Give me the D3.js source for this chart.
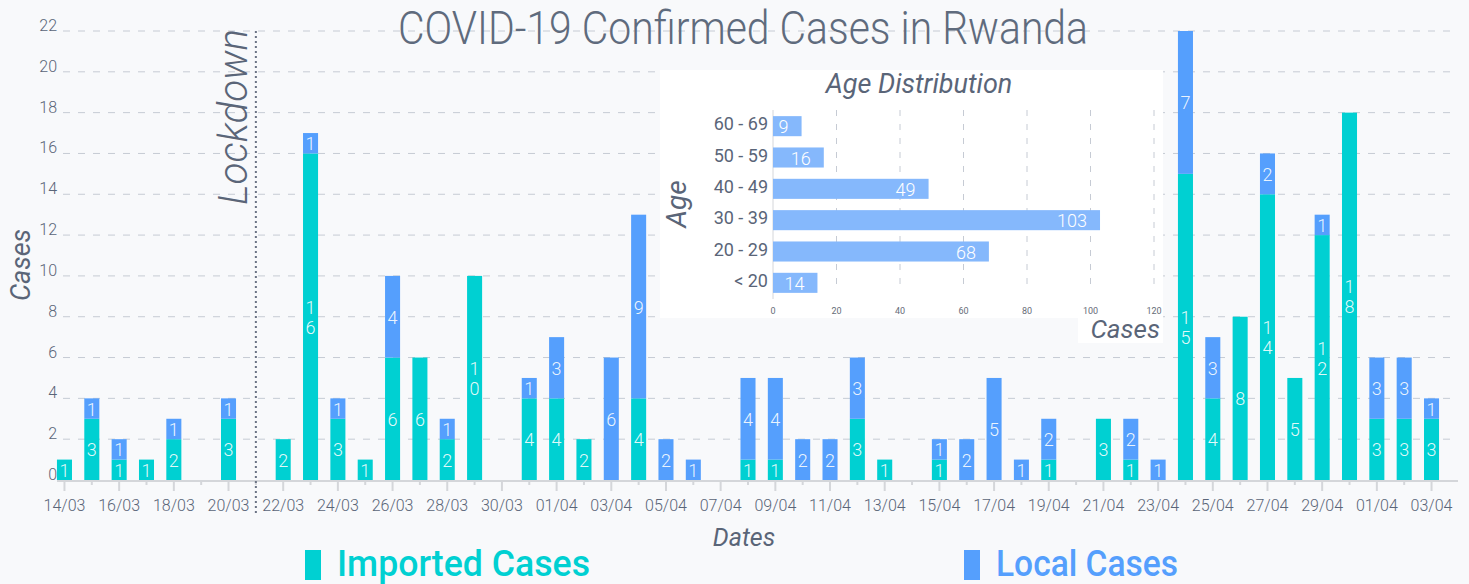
<!DOCTYPE html>
<html>
<head>
<meta charset="utf-8">
<script src="https://cdn.jsdelivr.net/npm/d3@7"></script>
<style>
  body { margin: 0; background: #f8f9fb; }
  svg { display: block; font-family: Roboto, sans-serif; }
  .ink { fill: #5a6578; }
</style>
</head>
<body>
<script>
// daily confirmed cases, 14/03 .. 03/05
const dates = [
  '14/03','15/03','16/03','17/03','18/03','19/03','20/03','21/03','22/03','23/03',
  '24/03','25/03','26/03','27/03','28/03','29/03','30/03','31/03',
  '01/04','02/04','03/04','04/04','05/04','06/04','07/04','08/04','09/04','10/04',
  '11/04','12/04','13/04','14/04','15/04','16/04','17/04','18/04','19/04','20/04',
  '21/04','22/04','23/04','24/04','25/04','26/04','27/04','28/04','29/04','30/04',
  '01/05','02/05','03/05'
]
const imported = [1,3,1,1,2,0,3,0,2,16, 3,1,6,6,2,10,0,4, 4,2,0,4,0,0,0,1,1,0, 0,3,1,0,1,0,0,0,1,0, 3,1,0,15,4,8,14,5,12,18, 3,3,3]
const local    = [0,1,1,0,1,0,1,0,0,1,  1,0,4,0,1,0,0,1,  3,0,6,9,2,1,0,4,4,2, 2,3,0,0,1,2,5,1,2,0, 0,2,1,7,3,0,2,0,1,0,  3,3,1]
// the original chart labels the last two ticks like this
const tickLabels = ['14/03','16/03','18/03','20/03','22/03','24/03','26/03','28/03','30/03',
  '01/04','03/04','05/04','07/04','09/04','11/04','13/04','15/04','17/04','19/04','21/04',
  '23/04','25/04','27/04','29/04','01/04','03/04']
const yTicks = [0,2,4,6,8,10,12,14,16,18,20,22]
const lockdownDate = '21/03'

// inset: age distribution
const ageGroups = ['60 - 69','50 - 59','40 - 49','30 - 39','20 - 29','< 20']
const ageCases = [9,16,49,103,68,14]
const ageTicks = [0,20,40,60,80,100,120]

const cImported = '#00d0d2'
const cLocal = '#559ffd'
const cAge = '#85b8fc'
const cGrid = '#c6cbd4'

const W = 1469, H = 584
const svg = d3.select('body').append('svg').attr('width', W).attr('height', H)

const x = d3.scaleBand().domain(dates).range([50.8, 1445.2]).paddingInner(0.45).paddingOuter(0.225)
const y = d3.scaleLinear().domain([0, 22]).range([480, 31])
const bw = x.bandwidth()

// grid
svg.append('g').selectAll('line').data(yTicks.slice(1)).enter().append('line')
  .attr('x1', 63).attr('x2', 1452)
  .attr('y1', d => y(d)).attr('y2', d => y(d))
  .attr('stroke', cGrid).attr('stroke-width', 1).attr('stroke-dasharray', '7,8')

// y tick labels
svg.append('g').selectAll('text').data(yTicks).enter().append('text')
  .attr('class', 'ink')
  .attr('x', 57).attr('y', d => y(d))
  .attr('text-anchor', 'end').attr('font-size', 16).attr('font-weight', 300)
  .text(d => d)

// x axis
const xa = svg.append('g')
xa.append('line').attr('x1', 57).attr('x2', 1458).attr('y1', 481).attr('y2', 481)
  .attr('stroke', '#d4d6da').attr('stroke-width', 2)
xa.selectAll('.tk').data(dates).enter().append('line')
  .attr('x1', d => x(d) + bw / 2).attr('x2', d => x(d) + bw / 2)
  .attr('y1', 481).attr('y2', (d, i) => i % 2 === 0 ? 491 : 485)
  .attr('stroke', '#d4d6da').attr('stroke-width', 2)
xa.selectAll('text').data(tickLabels).enter().append('text')
  .attr('class', 'ink')
  .attr('x', (d, i) => x(dates[i * 2]) + bw / 2).attr('y', 511)
  .attr('text-anchor', 'middle').attr('font-size', 16).attr('font-weight', 300)
  .text(d => d)

// stacked bars
const rows = dates.map((d, i) => ({ date: d, imported: imported[i], local: local[i] }))
const series = d3.stack().keys(['imported', 'local'])(rows)
const colors = { imported: cImported, local: cLocal }

const layers = svg.append('g').selectAll('g').data(series).enter().append('g')
  .attr('fill', s => colors[s.key])
layers.selectAll('rect').data(s => s).enter().append('rect')
  .attr('x', d => x(d.data.date))
  .attr('width', bw)
  .attr('y', d => y(d[1]))
  .attr('height', d => y(d[0]) - y(d[1]))

// segment labels, digits stacked vertically
const labels = svg.append('g').attr('fill', '#ffffff').attr('fill-opacity', 0.9)
  .attr('font-size', 18).attr('font-weight', 300).attr('text-anchor', 'middle')
series.forEach(s => {
  s.forEach(d => {
    const v = d[1] - d[0]
    if (v <= 0) return
    const digits = String(v).split('')
    const cy = (y(d[0]) + y(d[1])) / 2
    const t = labels.append('text')
      .attr('x', x(d.data.date) + bw / 2)
      .attr('y', cy - (digits.length - 1) * 10 + 7)
    digits.forEach((c, k) => {
      t.append('tspan').attr('x', x(d.data.date) + bw / 2).attr('dy', k === 0 ? 0 : 20).text(c)
    })
  })
})

// lockdown marker
const lx = x(lockdownDate) + bw / 2
svg.append('line').attr('x1', lx).attr('x2', lx).attr('y1', 31).attr('y2', 516)
  .attr('stroke', '#6b7384').attr('stroke-width', 2).attr('stroke-dasharray', '2,3')
svg.append('text').attr('class', 'ink')
  .attr('transform', `translate(${lx - 9},205) rotate(-90)`)
  .attr('font-size', 40).attr('font-style', 'italic').attr('font-weight', 300)
  .attr('textLength', 176).attr('lengthAdjust', 'spacingAndGlyphs')
  .text('Lockdown')

// titles
svg.append('text').attr('fill', '#5f6b7d')
  .attr('x', 398).attr('y', 44)
  .attr('font-size', 46).attr('font-weight', 300)
  .attr('textLength', 690).attr('lengthAdjust', 'spacingAndGlyphs')
  .text('COVID-19 Confirmed Cases in Rwanda')
svg.append('text').attr('class', 'ink')
  .attr('transform', 'translate(30,265) rotate(-90)')
  .attr('text-anchor', 'middle').attr('font-size', 27).attr('font-style', 'italic')
  .text('Cases')
svg.append('text').attr('class', 'ink')
  .attr('x', 744).attr('y', 546).attr('text-anchor', 'middle')
  .attr('font-size', 25).attr('font-style', 'italic')
  .text('Dates')

// legend
const legend = [
  { name: 'Imported Cases', color: cImported, x: 305, w: 253 },
  { name: 'Local Cases', color: cLocal, x: 964, w: 182 }
]
legend.forEach(l => {
  svg.append('rect').attr('x', l.x).attr('y', 550).attr('width', 16).attr('height', 30).attr('fill', l.color)
  svg.append('text').attr('x', l.x + 32).attr('y', 576)
    .attr('fill', l.color).attr('font-size', 36).attr('font-weight', 500)
    .attr('textLength', l.w).attr('lengthAdjust', 'spacingAndGlyphs')
    .text(l.name)
})

// ---- inset ----
const inset = svg.append('g')
inset.append('rect').attr('x', 660).attr('y', 70).attr('width', 503).attr('height', 248).attr('fill', '#ffffff')
inset.append('rect').attr('x', 1078).attr('y', 318).attr('width', 85).attr('height', 25).attr('fill', '#ffffff')

const ax = d3.scaleLinear().domain([0, 120]).range([773, 1154])
const ay = d3.scaleBand().domain(ageGroups).range([110.5, 298.5]).paddingInner(0.36).paddingOuter(0.18)

inset.append('g').selectAll('line').data(ageTicks.slice(1)).enter().append('line')
  .attr('x1', d => ax(d)).attr('x2', d => ax(d)).attr('y1', 110).attr('y2', 292)
  .attr('stroke', cGrid).attr('stroke-dasharray', '6,8')
inset.append('line').attr('x1', 773).attr('x2', 773).attr('y1', 110).attr('y2', 299)
  .attr('stroke', '#d4d6da').attr('stroke-width', 1)
inset.append('g').selectAll('text').data(ageTicks).enter().append('text')
  .attr('x', d => ax(d)).attr('y', 314).attr('text-anchor', 'middle')
  .attr('font-size', 9).attr('fill', '#666c78')
  .text(d => d)

inset.append('g').selectAll('rect').data(ageGroups).enter().append('rect')
  .attr('x', ax(0)).attr('y', d => ay(d))
  .attr('width', (d, i) => ax(ageCases[i]) - ax(0))
  .attr('height', ay.bandwidth())
  .attr('fill', cAge)
inset.append('g').selectAll('text').data(ageGroups).enter().append('text')
  .attr('x', (d, i) => ax(ageCases[i]) - 13).attr('y', d => ay(d) + ay.bandwidth() / 2 + 7)
  .attr('text-anchor', 'end').attr('font-size', 18).attr('font-weight', 300).attr('fill', '#ffffff')
  .text((d, i) => ageCases[i])
inset.append('g').selectAll('text').data(ageGroups).enter().append('text')
  .attr('class', 'ink')
  .attr('x', 768).attr('y', d => ay(d) + ay.bandwidth() / 2 + 4)
  .attr('text-anchor', 'end').attr('font-size', 18)
  .text(d => d)

inset.append('text').attr('class', 'ink')
  .attr('x', 919).attr('y', 93).attr('text-anchor', 'middle')
  .attr('font-size', 27).attr('font-style', 'italic')
  .text('Age Distribution')
inset.append('text').attr('class', 'ink')
  .attr('transform', 'translate(686,204) rotate(-90)')
  .attr('text-anchor', 'middle').attr('font-size', 28).attr('font-style', 'italic')
  .text('Age')
inset.append('text').attr('class', 'ink')
  .attr('x', 1160).attr('y', 338).attr('text-anchor', 'end')
  .attr('font-size', 26).attr('font-style', 'italic')
  .text('Cases')
</script>
</body>
</html>
